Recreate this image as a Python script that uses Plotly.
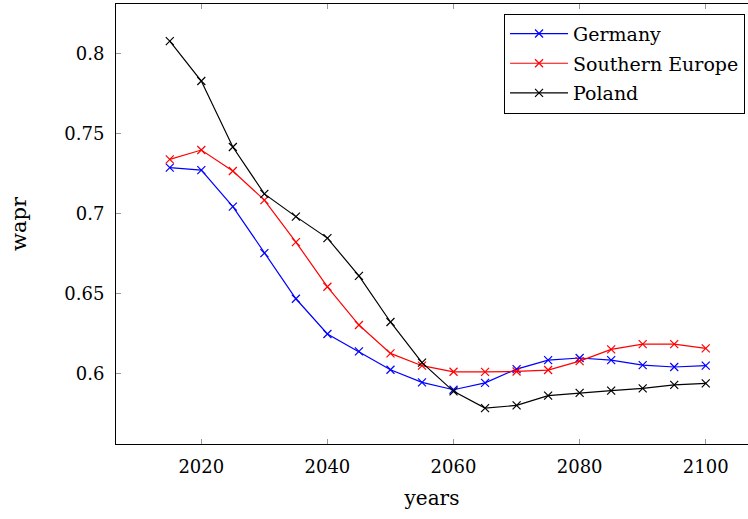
import plotly.graph_objects as go

years = [2015, 2020, 2025, 2030, 2035, 2040, 2045, 2050, 2055, 2060,
         2065, 2070, 2075, 2080, 2085, 2090, 2095, 2100]
germany = [0.7287, 0.7271, 0.7044, 0.6753, 0.6468, 0.6248, 0.6139, 0.6025, 0.5946, 0.5900,
           0.5943, 0.6029, 0.6085, 0.6098, 0.6085, 0.6054, 0.6042, 0.6050]
southern_europe = [0.7339, 0.7397, 0.7266, 0.7084, 0.6822, 0.6543, 0.6304, 0.6127, 0.6050, 0.6012,
                   0.6011, 0.6014, 0.6023, 0.6079, 0.6152, 0.6185, 0.6185, 0.6158]
poland = [0.8077, 0.7828, 0.7416, 0.7123, 0.6981, 0.6847, 0.6611, 0.6323, 0.6069, 0.5890,
          0.5785, 0.5802, 0.5863, 0.5880, 0.5894, 0.5908, 0.5930, 0.5940]

series = [("Germany", germany, "#0000FF"),
          ("Southern Europe", southern_europe, "#FF0000"),
          ("Poland", poland, "#000000")]

FONT = "DejaVu Serif"

fig = go.Figure()
for i, (name, vals, col) in enumerate(series):
    fig.add_trace(go.Scatter(
        x=years, y=vals, name=name, mode="lines+markers",
        legendgroup=f"g{i}",
        line=dict(color=col, width=1.2),
        marker=dict(symbol="x-thin", size=8, line=dict(color=col, width=1.2), color=col),
    ))

fig.update_layout(
    width=748, height=519,
    margin=dict(l=116, r=0, t=4, b=75),
    paper_bgcolor="white", plot_bgcolor="white",
    font=dict(family=FONT, size=18, color="black"),
    showlegend=True,
    legend=dict(
        x=0.9953, y=0.978, xanchor="right", yanchor="top",
        bordercolor="black", borderwidth=1, bgcolor="white",
        font=dict(family=FONT, size=19, color="black"),
        traceorder="grouped", tracegroupgap=2,
        itemwidth=58,
    ),
    xaxis=dict(
        range=[2006.47, 2106.7],
        tickvals=[2020, 2040, 2060, 2080, 2100],
        ticks="inside", ticklen=5, tickcolor="#999999", tickwidth=1,
        showline=True, linecolor="black", linewidth=1, mirror="ticks",
        showgrid=False, zeroline=False,
        ticklabelstandoff=6,
        title=dict(text="years", font=dict(family=FONT, size=20), standoff=15),
    ),
    yaxis=dict(
        range=[0.5561, 0.8309],
        tickvals=[0.6, 0.65, 0.7, 0.75, 0.8],
        ticktext=["0.6", "0.65", "0.7", "0.75", "0.8"],
        ticks="inside", ticklen=5, tickcolor="#999999", tickwidth=1,
        showline=True, linecolor="black", linewidth=1, mirror=False,
        showgrid=False, zeroline=False,
        ticklabelstandoff=7,
        title=dict(text="wapr", font=dict(family=FONT, size=21), standoff=31),
    ),
)

fig.write_html("out.html")
